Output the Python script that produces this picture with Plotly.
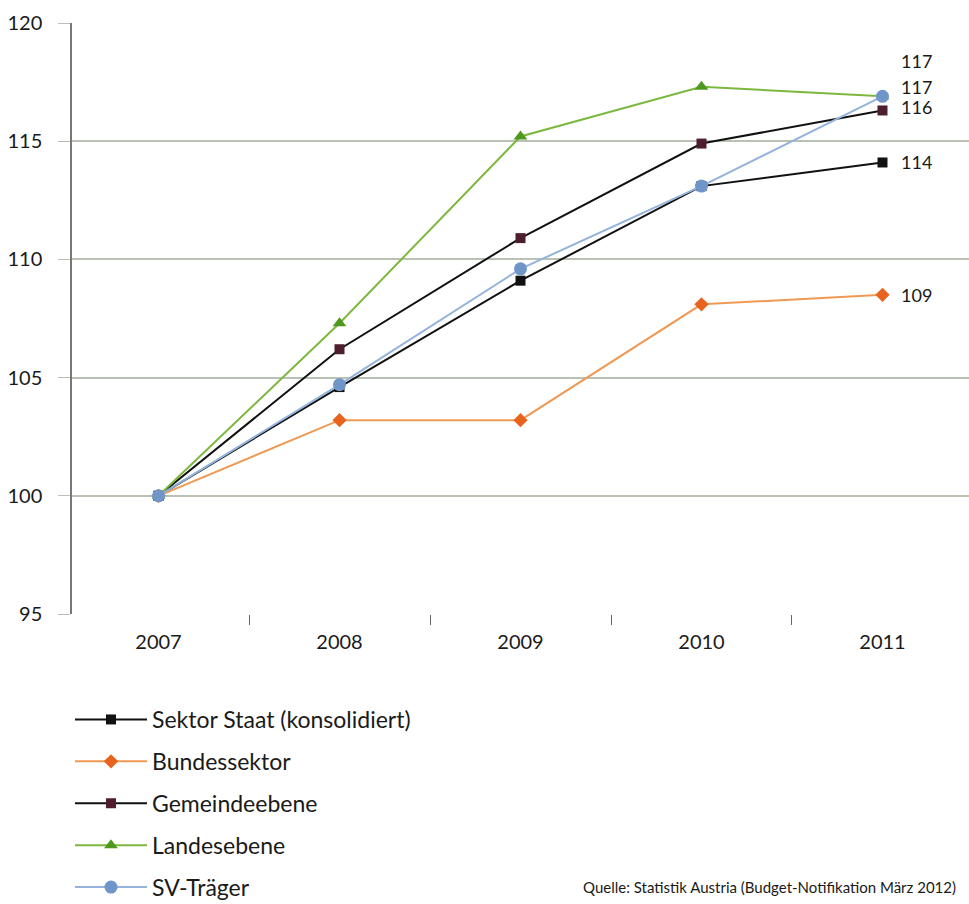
import plotly.graph_objects as go

years = ["2007", "2008", "2009", "2010", "2011"]
sektor_staat = [100, 104.6, 109.1, 113.1, 114.1]
bundessektor = [100, 103.2, 103.2, 108.1, 108.5]
gemeindeebene = [100, 106.2, 110.9, 114.9, 116.3]
landesebene = [100, 107.3, 115.2, 117.3, 116.9]
sv_traeger = [100, 104.7, 109.6, 113.1, 116.9]

end_labels = ["114", "109", "116", "117", "117"]
y_ticks = [95, 100, 105, 110, 115, 120]
source = "Quelle: Statistik Austria (Budget-Notifikation März 2012)"

FONT = "Lato, 'Open Sans', sans-serif"

series = [
    ("Sektor Staat (konsolidiert)", sektor_staat, "#111111", "#111111", "square", 10),
    ("Bundessektor", bundessektor, "#ee9a55", "#e8641e", "diamond", 11),
    ("Gemeindeebene", gemeindeebene, "#111111", "#4e1e30", "square", 10),
    ("Landesebene", landesebene, "#7cb83e", "#4f9a1e", "triangle-up", 12),
    ("SV-Träger", sv_traeger, "#93b3da", "#6f95c9", "circle", 13),
]
label_shift = [0, 0, 3, 35, 9]

fig = go.Figure()
last = len(years) - 1
for i, (name, vals, lc, mc, sym, ms) in enumerate(series):
    fig.add_trace(go.Scatter(
        x=years, y=vals, name=name, mode="lines+markers",
        line=dict(color=lc, width=2),
        marker=dict(color=mc, symbol=sym, size=ms, line=dict(width=0)),
        legendgroup=f"g{i}",
    ))
    fig.add_annotation(
        x=last, y=vals[-1], text=end_labels[i], showarrow=False,
        xanchor="left", yanchor="middle", xshift=17, yshift=label_shift[i],
        font=dict(family=FONT, size=18, color="#1a1a1a"),
    )

fig.add_annotation(
    x=(581 - 72) / 897, y=(614 - 887) / 591, xref="paper", yref="paper",
    text=source, showarrow=False, xanchor="left", yanchor="middle",
    font=dict(family=FONT, size=15, color="#1a1a1a"),
)

fig.update_layout(
    width=969, height=904,
    margin=dict(l=72, r=0, t=23, b=290, autoexpand=False),
    paper_bgcolor="white", plot_bgcolor="white",
    font=dict(family=FONT, size=20, color="#1a1a1a"),
    showlegend=True,
    legend=dict(
        xref="container", yref="container",
        x=70 / 969, y=1 - 698 / 904, xanchor="left", yanchor="top",
        font=dict(family=FONT, size=23, color="#1a1a1a"),
        itemwidth=72,
        tracegroupgap=9, bgcolor="rgba(0,0,0,0)",
    ),
    xaxis=dict(
        type="category", range=[-0.478, 4.478],
        showgrid=False, showline=False, zeroline=False,
        ticks="outside", tickson="boundaries", ticklen=10, tickcolor="#666",
        ticklabelstandoff=14,
        tickfont=dict(family=FONT, size=20, color="#1a1a1a"),
    ),
    yaxis=dict(
        range=[95, 120], tickvals=y_ticks, ticktext=[str(v) for v in y_ticks],
        showgrid=True, gridcolor="#b9c0b4", gridwidth=1.5,
        showline=True, linecolor="#777", linewidth=1.5,
        ticks="outside", ticklen=12, tickcolor="#b9c0b4",
        ticklabelstandoff=12,
        zeroline=False,
        tickfont=dict(family=FONT, size=20, color="#1a1a1a"),
    ),
)

fig.write_html(
    "out.html",
    config={"displayModeBar": False},
    post_script="document.body.style.margin='0';document.body.style.overflow='hidden';",
)
